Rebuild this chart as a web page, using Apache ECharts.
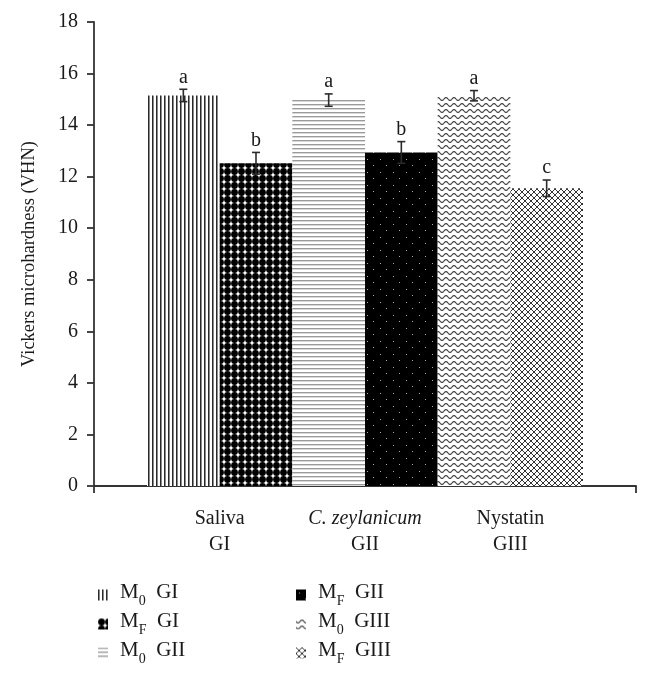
<!DOCTYPE html>
<html>
<head>
<meta charset="utf-8">
<script src="https://cdn.jsdelivr.net/npm/echarts@6/dist/echarts.min.js"></script>
<style>
html,body{margin:0;padding:0;background:#fff;}
#chart{width:650px;height:673px;}
</style>
</head>
<body>
<div id="chart"></div>
<script>
// ---- data ----
const categories = ['Saliva', 'C. zeylanicum', 'Nystatin'];
const groups = ['GI', 'GII', 'GIII'];
const m0Values = [15.15, 14.97, 15.14];
const mfValues = [12.52, 12.94, 11.55];
const m0Errors = [0.24, 0.24, 0.2];
const mfErrors = [0.42, 0.42, 0.32];
const m0Letters = ['a', 'a', 'a'];
const mfLetters = ['b', 'b', 'c'];
const yMin = 0, yMax = 18, yStep = 2;
const legendLeft = ['M0 GI', 'MF GI', 'M0 GII'];
const legendRight = ['MF GII', 'M0 GIII', 'MF GIII'];

// ---- patterns ----
const FONT = '"Liberation Serif", "DejaVu Serif", serif';
function tile(w, h, draw, bg) {
  const c = document.createElement('canvas');
  c.width = w; c.height = h;
  const g = c.getContext('2d');
  g.fillStyle = bg || '#fff';
  g.fillRect(0, 0, w, h);
  draw(g, w, h);
  return c;
}
function px(g, x, y, col) { g.fillStyle = col; g.fillRect(x, y, 1, 1); }
const patterns = {
  'M0 GI': tile(4, 4, (g) => { g.fillStyle = '#2a2a2a'; g.fillRect(0, 0, 1, 4); g.fillStyle = '#8a8a8a'; g.fillRect(1, 0, 1, 4); }),
  'MF GI': tile(7, 7, (g) => { g.fillStyle = '#000'; g.beginPath(); g.arc(3.5, 3.5, 3.4, 0, Math.PI * 2); g.fill(); }),
  'M0 GII': tile(4, 4, (g) => { g.fillStyle = '#9a9a9a'; g.fillRect(0, 0, 4, 1); g.fillStyle = '#d8d8d8'; g.fillRect(0, 1, 4, 1); }),
  'MF GII': tile(13, 13, (g) => { px(g, 3, 3, '#aaa'); px(g, 9, 9, '#aaa'); }, '#000'),
  'M0 GIII': tile(8, 6, (g) => {
    g.strokeStyle = '#3a3a3a'; g.lineWidth = 1.1; g.beginPath();
    for (let x = -1; x <= 9; x += 0.25) { const y = 3 + 1.4 * Math.sin(2 * Math.PI * x / 8); if (x === -1) g.moveTo(x, y); else g.lineTo(x, y); }
    g.stroke();
  }),
  'MF GIII': tile(6, 6, (g) => { for (let i = 0; i < 6; i++) { px(g, i, i, '#333'); px(g, i, 5 - i, '#333'); } })
};

// ---- series ----
const barSeries = [];
groups.forEach((grp, i) => {
  ['M0', 'MF'].forEach((m) => {
    const name = m + ' ' + grp;
    const vals = m === 'M0' ? m0Values : mfValues;
    barSeries.push({
      name: name,
      type: 'bar',
      stack: m,
      xAxisIndex: 0, yAxisIndex: 0,
      barCategoryGap: '0%',
      barGap: '0%',
      itemStyle: { color: { image: patterns[name], repeat: 'repeat' } },
      data: categories.map((c, j) => (j === i ? vals[j] : '-'))
    });
  });
});

function errSeries(vals, errs, letters, side) {
  return {
    type: 'custom',
    xAxisIndex: 0, yAxisIndex: 0,
    silent: true,
    z: 10,
    data: vals.map((v, i) => [i, v, errs[i], i]),
    renderItem: function (params, api) {
      const idx = api.value(0);
      const v = api.value(1), e = api.value(2);
      const band = api.size([1, 0])[0];
      const c = api.coord([idx, v]);
      const x = c[0] + side * band / 4;
      const yTop = api.coord([idx, v + e])[1];
      const yBot = api.coord([idx, v - e])[1];
      const cap = 4;
      const st = { stroke: '#2b2b2b', lineWidth: 1.6 };
      return {
        type: 'group',
        children: [
          { type: 'line', shape: { x1: x, y1: yTop, x2: x, y2: yBot }, style: st },
          { type: 'line', shape: { x1: x - cap, y1: yTop, x2: x + cap, y2: yTop }, style: st },
          { type: 'line', shape: { x1: x - cap, y1: yBot, x2: x + cap, y2: yBot }, style: st },
          { type: 'text', style: { text: letters[api.value(3)], x: x, y: yTop - 2, align: 'center', verticalAlign: 'bottom', fontSize: 20, fontFamily: FONT, fill: '#1a1a1a' } }
        ]
      };
    }
  };
}

const legendRich = {
  t: { fontSize: 21, fontFamily: FONT, color: '#1a1a1a', verticalAlign: 'bottom', padding: [0, 0, 5, 0] },
  s: { fontSize: 14, fontFamily: FONT, color: '#1a1a1a', verticalAlign: 'bottom' }
};
function legendFmt(name) {
  const parts = name.split(' ');
  return '{t|M}{s|' + parts[0].slice(1) + '}{t|  ' + parts[1] + '}';
}
function makeLegend(data, left) {
  return {
    data: data, left: left, top: 577, orient: 'vertical',
    itemWidth: 10, itemHeight: 11, itemGap: 3,
    icon: 'rect', selectedMode: false,
    formatter: legendFmt,
    textStyle: { rich: legendRich, padding: [0, 0, 0, 7] }
  };
}

const option = {
  animation: false,
  backgroundColor: '#fff',
  textStyle: { fontFamily: FONT },
  legend: [makeLegend(legendLeft, 93), makeLegend(legendRight, 291)],
  grid: [
    { left: 147, right: 67, top: 22, bottom: 187 },
    { left: 94, right: 14, top: 22, bottom: 187 }
  ],
  xAxis: [
    {
      type: 'category', gridIndex: 0, data: categories,
      axisLine: { show: false }, axisTick: { show: false },
      axisLabel: {
        margin: 20, interval: 0,
        formatter: function (v, i) {
          const top = v === 'C. zeylanicum' ? '{i|' + v + '}' : '{n|' + v + '}';
          return top + '\n{n|' + groups[i] + '}';
        },
        rich: {
          n: { fontSize: 20, fontFamily: FONT, color: '#1a1a1a', lineHeight: 26 },
          i: { fontSize: 20, fontFamily: FONT, fontStyle: 'italic', color: '#1a1a1a', lineHeight: 26 }
        }
      }
    },
    {
      type: 'value', gridIndex: 1, min: 0, max: 1, interval: 1,
      axisLine: { show: true, lineStyle: { color: '#333', width: 1.8 } },
      axisTick: { show: true, length: 7, lineStyle: { color: '#333', width: 1.8 } },
      axisLabel: { show: false }, splitLine: { show: false }
    }
  ],
  yAxis: [
    {
      type: 'value', gridIndex: 0, min: yMin, max: yMax, interval: yStep, offset: 53,
      name: 'Vickers microhardness (VHN)', nameLocation: 'middle', nameGap: 55,
      nameTextStyle: { fontSize: 18.5, fontFamily: FONT, color: '#1a1a1a' },
      axisLine: { show: true, lineStyle: { color: '#333', width: 1.8 } },
      axisTick: { show: true, length: 7, lineStyle: { color: '#333', width: 1.8 } },
      axisLabel: { fontSize: 20, fontFamily: FONT, color: '#1a1a1a', margin: 16 },
      splitLine: { show: false }
    },
    { type: 'value', gridIndex: 1, min: 0, max: 1, show: false }
  ],
  series: barSeries.concat([
    errSeries(m0Values, m0Errors, m0Letters, -1),
    errSeries(mfValues, mfErrors, mfLetters, 1)
  ])
};

const chart = echarts.init(document.getElementById('chart'), null, { renderer: 'canvas' });
chart.setOption(option);
</script>
</body>
</html>
